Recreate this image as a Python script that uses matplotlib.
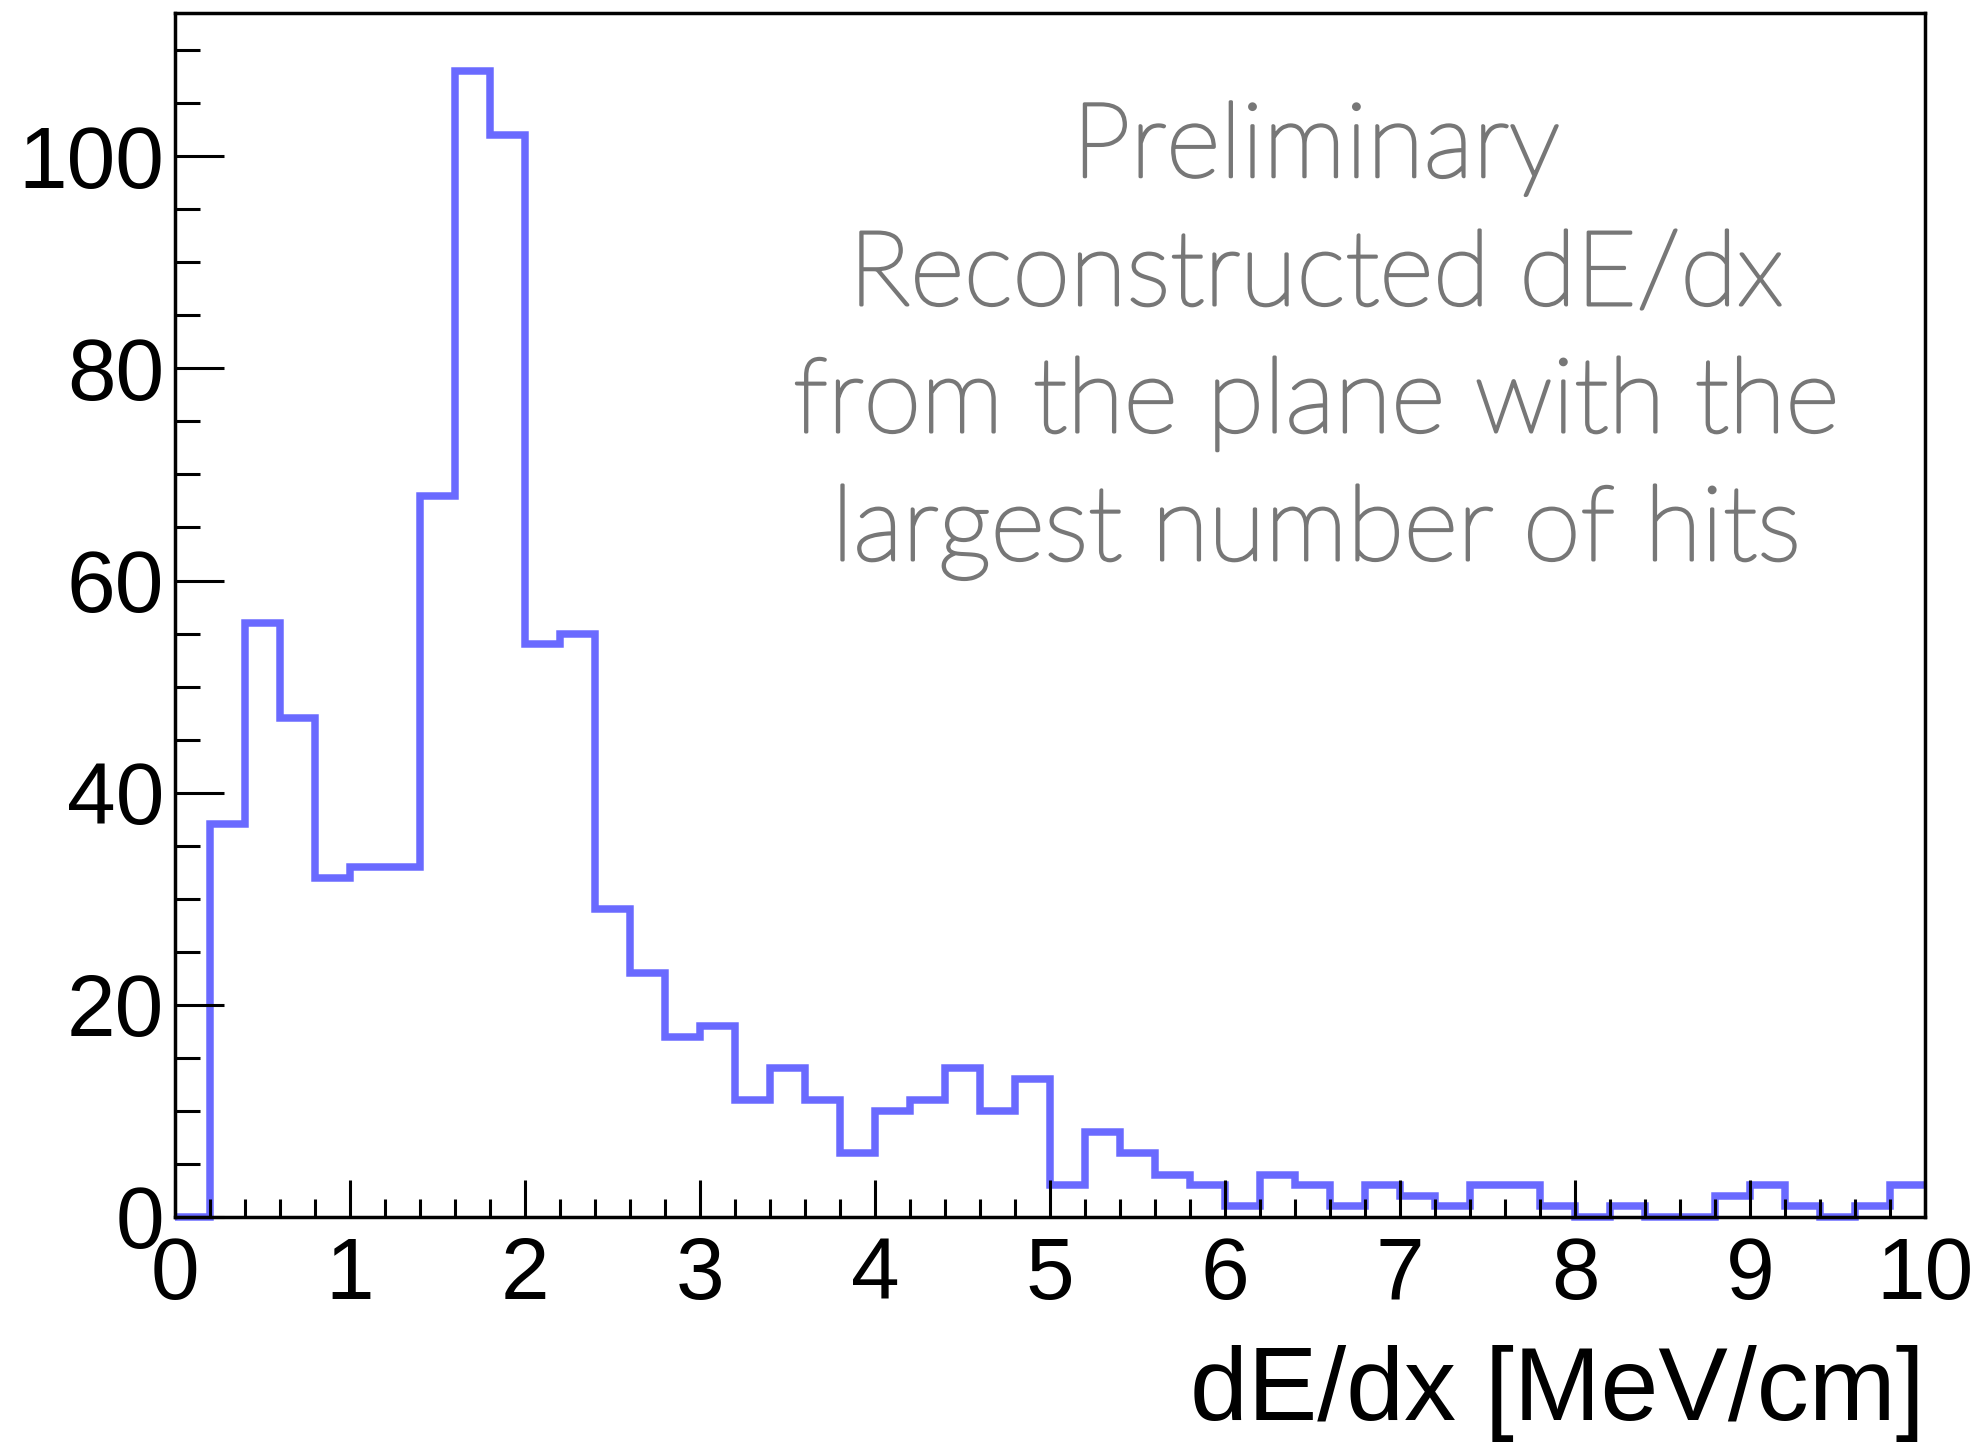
import numpy as np
import matplotlib
matplotlib.use("Agg")
import matplotlib.pyplot as plt
import matplotlib.patheffects as pe
from matplotlib.ticker import MultipleLocator

# dE/dx histogram: 50 bins of 0.2 MeV/cm between 0 and 10
bin_edges = np.linspace(0.0, 10.0, 51)
counts = [
    0, 37, 56, 47, 32, 33, 33, 68, 108, 102,
    54, 55, 29, 23, 17, 18, 11, 14, 11, 6,
    10, 11, 14, 10, 13, 3, 8, 6, 4, 3,
    1, 4, 3, 1, 3, 2, 1, 3, 3, 1,
    0, 1, 0, 0, 2, 3, 1, 0, 1, 3,
]
x_label = "dE/dx [MeV/cm]"
note_lines = [
    "Preliminary",
    "Reconstructed dE/dx",
    "from the plane with the",
    "largest number of hits",
]

plt.rcParams["font.family"] = ["Liberation Sans", "DejaVu Sans"]

fig = plt.figure(figsize=(19.84, 14.45), dpi=100)
ax = fig.add_axes([0.0882, 0.1578, 0.8821, 0.8332])

ax.stairs(counts, bin_edges, baseline=None, fill=False,
          color="#6a6aff", linewidth=5.4, clip_on=False, zorder=2)

ax.set_xlim(0, 10)
ax.set_ylim(0, 113.5)
ax.set_axisbelow(False)

ax.xaxis.set_major_locator(MultipleLocator(1))
ax.xaxis.set_minor_locator(MultipleLocator(0.2))
ax.yaxis.set_major_locator(MultipleLocator(20))
ax.yaxis.set_minor_locator(MultipleLocator(5))

ax.tick_params(axis="x", which="major", direction="in", length=27, width=2.2,
               labelsize=63, pad=14, colors="black")
ax.tick_params(axis="x", which="minor", direction="in", length=13, width=2.2)
ax.tick_params(axis="y", which="major", direction="in", length=35, width=2.2,
               labelsize=63, pad=8, colors="black")
ax.tick_params(axis="y", which="minor", direction="in", length=18, width=2.2)
ax.tick_params(top=False, right=False, which="both")

for side in ("left", "bottom", "right", "top"):
    ax.spines[side].set_linewidth(2.5)
    ax.spines[side].set_color("black")

ax.set_xlabel(x_label, fontsize=75, loc="right", labelpad=20)

note_color = "#777777"
baselines = [0.864, 0.7575, 0.652, 0.5457]
for line, yb in zip(note_lines, baselines):
    ax.text(0.652, yb, line, transform=ax.transAxes, ha="center", va="baseline",
            fontsize=75, color=note_color, family=["Lato", "DejaVu Sans"],
            fontweight="light",
            path_effects=[pe.withStroke(linewidth=2.2, foreground=note_color)])

fig.savefig("out.png", dpi=100, facecolor="white")
